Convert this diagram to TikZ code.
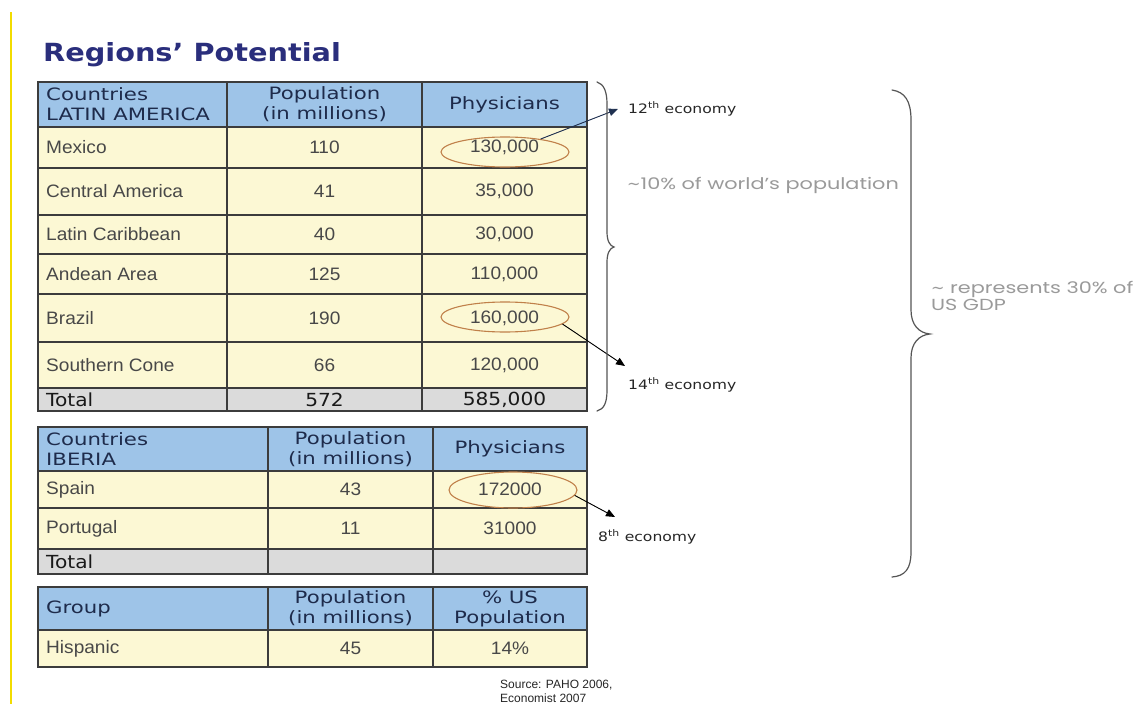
\documentclass[tikz,border=0pt]{standalone}
\usepackage{fontspec}
\usetikzlibrary{shapes.geometric,arrows.meta}

% Type faces
\newfontfamily\titlefont[FakeStretch=1.15]{DejaVu Sans}
\newfontfamily\hdrfont[FakeStretch=1.25]{DejaVu Sans}
\newfontfamily\totfont[FakeStretch=1.12]{DejaVu Sans}
\newfontfamily\cellfont[FakeStretch=1.06]{Liberation Sans}
\newfontfamily\notefont[FakeStretch=1.2]{DejaVu Sans}
\newfontfamily\softfont[FakeStretch=1.3]{Poppins}
\newfontfamily\srcfont{Liberation Sans}
\newfontfamily\symfont{DejaVu Sans}

% Palette
\definecolor{titleblue}{HTML}{2A2E7C}
\definecolor{hdrfill}{HTML}{9EC4E8}
\definecolor{bodyfill}{HTML}{FCF8D4}
\definecolor{totfill}{HTML}{DBDBDB}
\definecolor{gridcol}{HTML}{3C3C3C}
\definecolor{hdrtext}{HTML}{1E2B4B}
\definecolor{celltext}{HTML}{484848}
\definecolor{ringcol}{HTML}{C0804A}
\definecolor{softgray}{HTML}{9A9A9A}
\definecolor{bracecol}{HTML}{555555}
\definecolor{navyline}{HTML}{1F3050}
\definecolor{marginline}{HTML}{F2DC00}

\tikzset{
  hdr/.style={font=\hdrfont\fontsize{17}{20}\selectfont, text=hdrtext, inner sep=0pt, align=center},
  hdrleft/.style={hdr, anchor=west, align=left},
  cell/.style={font=\cellfont\fontsize{18}{20}\selectfont, text=celltext, inner sep=0pt},
  cellleft/.style={cell, anchor=west},
  tot/.style={font=\totfont\fontsize{18}{20}\selectfont, text=black!90, inner sep=0pt},
  totleft/.style={tot, anchor=west},
  ring/.style={ellipse, draw=ringcol, line width=1.1pt, inner sep=0pt,
               minimum width=128pt, minimum height=30pt},
  note/.style={font=\notefont\fontsize{13}{15}\selectfont, text=black!85, anchor=west, inner sep=0pt},
  soft/.style={font=\softfont\fontsize{16}{17}\selectfont, text=softgray, anchor=west,
               inner sep=0pt, align=left},
  pointer/.style={-{Triangle[length=9pt,width=7.5pt]}, line width=0.9pt},
  grid/.style={draw=gridcol, line width=1.3pt},
  brace/.style={draw=bracecol, line width=1.2pt, line cap=round},
}

\begin{document}
\begin{tikzpicture}[x=1pt,y=-1pt]
  \useasboundingbox (0,0) rectangle (1141,704);
  \fill[white] (0,0) rectangle (1141,704);

  % margin rule at the left
  \draw[marginline, line width=1.6pt] (11,12) -- (11,704);

  % title
  \node[anchor=base west, inner sep=0pt, text=titleblue,
        font=\titlefont\bfseries\fontsize{25}{30}\selectfont] (title) at (43,61) {Regions’ Potential};

  % ---------------- Latin America table ----------------
  \fill[hdrfill]  (38,82)  rectangle (587,127);
  \fill[bodyfill] (38,127) rectangle (587,388);
  \fill[totfill]  (38,388) rectangle (587,411);
  \foreach \y in {127,168,215,254,294,342,388} \draw[grid] (38,\y) -- (587,\y);
  \foreach \x in {227,422} \draw[grid] (\x,82) -- (\x,411);
  \draw[grid] (38,82) rectangle (587,411);

  \node[hdrleft] (lahd1) at (46,104.5) {Countries\\LATIN AMERICA};
  \node[hdr] (lahd2) at (324.5,104.5) {Population\\(in millions)};
  \node[hdr] (lahd3) at (504.5,104.5) {Physicians};

  \foreach \lab/\pop/\phy/\y [count=\i] in {
      Mexico/110/{130,000}/147.5,
      Central America/41/{35,000}/191.5,
      Latin Caribbean/40/{30,000}/234.5,
      Andean Area/125/{110,000}/274,
      Brazil/190/{160,000}/318,
      Southern Cone/66/{120,000}/365} {
    \node[cellleft] (la\i a) at (46,\y) {\lab};
    \node[cell] (la\i b) at (324.5,\y) {\pop};
    \node[cell] (la\i c) at (504.5,\y) {\phy};
  }
  \node[totleft] (latot1) at (46,399.5) {Total};
  \node[tot] (latot2) at (324.5,399.5) {572};
  \node[tot] (latot3) at (504.5,399.5) {585,000};

  % ---------------- Iberia table ----------------
  \fill[hdrfill]  (38,427) rectangle (587,471);
  \fill[bodyfill] (38,471) rectangle (587,549);
  \fill[totfill]  (38,549) rectangle (587,574);
  \foreach \y in {471,508,549} \draw[grid] (38,\y) -- (587,\y);
  \foreach \x in {268,433} \draw[grid] (\x,427) -- (\x,574);
  \draw[grid] (38,427) rectangle (587,574);

  \node[hdrleft] (ibhd1) at (46,449) {Countries\\IBERIA};
  \node[hdr] (ibhd2) at (350.5,449) {Population\\(in millions)};
  \node[hdr] (ibhd3) at (510,449) {Physicians};

  \node[cellleft] (ib1a) at (46,489.5) {Spain};
  \node[cell] (ib1b) at (350.5,489.5) {43};
  \node[cell] (ib1c) at (510,489.5) {172000};
  \node[cellleft] (ib2a) at (46,528.5) {Portugal};
  \node[cell] (ib2b) at (350.5,528.5) {11};
  \node[cell] (ib2c) at (510,528.5) {31000};
  \node[totleft] (ibtot) at (46,561.5) {Total};

  % ---------------- Hispanic group table ----------------
  \fill[hdrfill]  (38,587) rectangle (587,630);
  \fill[bodyfill] (38,630) rectangle (587,667);
  \draw[grid] (38,630) -- (587,630);
  \foreach \x in {268,433} \draw[grid] (\x,587) -- (\x,667);
  \draw[grid] (38,587) rectangle (587,667);

  \node[hdrleft] (gphd1) at (46,609) {Group};
  \node[hdr] (gphd2) at (350.5,608.5) {Population\\(in millions)};
  \node[hdr] (gphd3) at (510,608.5) {\% US\\Population};
  \node[cellleft] (gp1a) at (46,648.5) {Hispanic};
  \node[cell] (gp1b) at (350.5,648.5) {45};
  \node[cell] (gp1c) at (510,648.5) {14\%};

  % ---------------- highlighted values ----------------
  \node[ring] (ringmx) at (505,152) {};
  \node[ring] (ringbr) at (505,317) {};
  \node[ring, minimum height=36pt] (ringes) at (513,490) {};

  % ---------------- economy ranks ----------------
  \coordinate (tip12) at (618,109);
  \coordinate (tip14) at (625,366);
  \coordinate (tip8)  at (615,517);
  \node[note] (eco12) at (628,109) {12\textsuperscript{th} economy};
  \node[note] (eco14) at (628,385) {14\textsuperscript{th} economy};
  \node[note] (eco8)  at (598,537) {8\textsuperscript{th} economy};
  \draw[pointer, draw=navyline, fill=navyline] (ringmx.20) -- (tip12);
  \draw[pointer, fill=black] (ringbr.-7) -- (tip14);
  \draw[pointer, fill=black] (ringes.-5) -- (tip8);

  % ---------------- braces ----------------
  \draw[brace] (597,82) .. controls (604,84) and (607,92) .. (607,104)
               -- (607,232) .. controls (607,241) and (610,246) .. (614,247)
               .. controls (610,248) and (607,253) .. (607,262)
               -- (607,390) .. controls (607,403) and (604,409) .. (597,411);
  \draw[brace] (892,90) .. controls (905,92) and (911,101) .. (911,120)
               -- (911,310) .. controls (911,325) and (919,333) .. (930,334)
               .. controls (919,335) and (911,343) .. (911,358)
               -- (911,552) .. controls (911,569) and (905,576) .. (892,577);

  \node[soft] (worldpop) at (627,185) {{\symfont ∼}10\% of world’s population};
  \node[soft] (usgdp) at (931,296) {{\symfont ∼} represents 30\% of\\US GDP};

  % ---------------- source ----------------
  \node[anchor=north west, inner sep=0pt, align=left, text=black!85,
        font=\srcfont\fontsize{12}{14}\selectfont] (source) at (500,680)
        {Source: PAHO 2006,\\Economist 2007};
\end{tikzpicture}
\end{document}
